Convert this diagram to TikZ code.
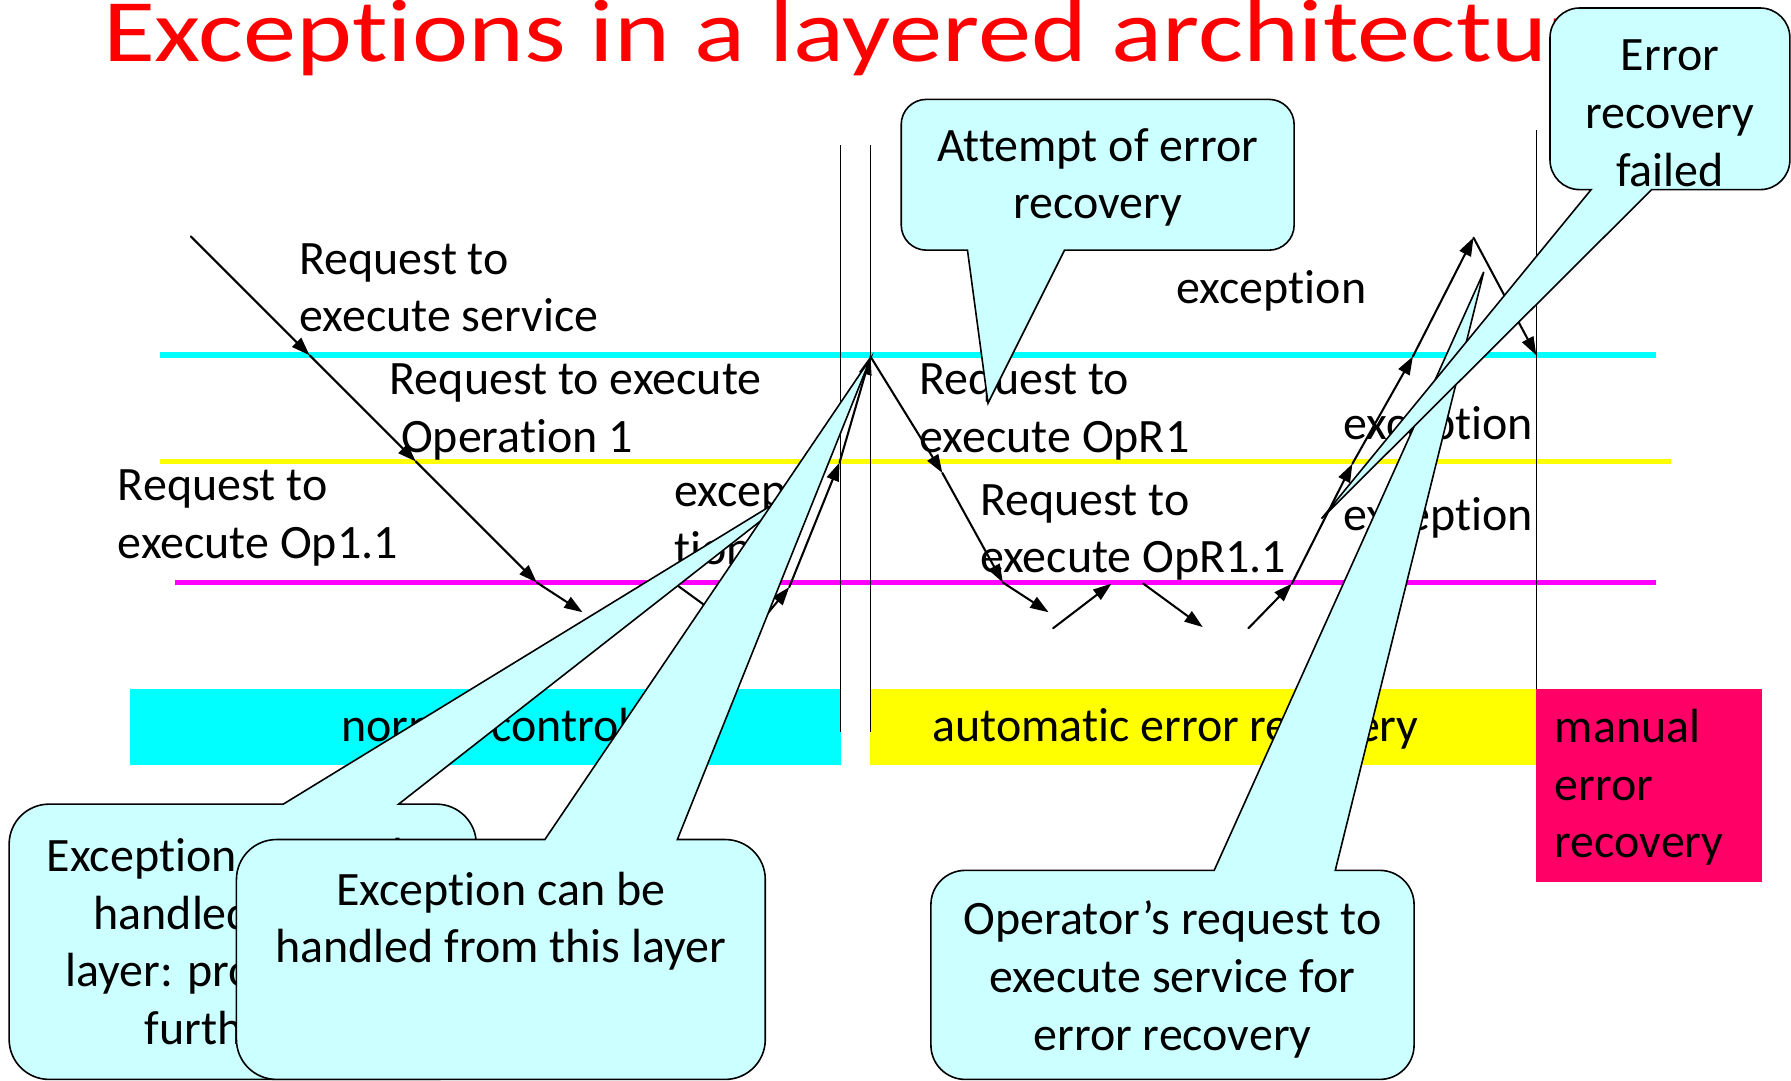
\documentclass[tikz,border=0pt]{standalone}
\usepackage{fontspec}
\usepackage{graphicx}
\setmainfont{Carlito}[Ligatures=NoCommon]
\usetikzlibrary{arrows.meta}

\definecolor{layerA}{HTML}{00FFFF}
\definecolor{layerB}{HTML}{FFFF00}
\definecolor{layerC}{HTML}{FF00FF}
\definecolor{bubble}{HTML}{CCFFFF}
\definecolor{manualred}{HTML}{FF0066}
\definecolor{titlered}{HTML}{FF0000}

\begin{document}
\begin{tikzpicture}[x=1pt, y=-1pt,
  lbl/.style={font=\fontsize{42}{50.5}\selectfont, inner sep=0pt, anchor=base west, align=left},
  clbl/.style={font=\fontsize{42}{50.5}\selectfont, inner sep=0pt, anchor=base, align=center},
  msg/.style={draw=black, line width=1.8pt, line cap=round, -{Triangle[length=16pt,width=11pt]}},
  layerline/.style={line width=5pt},
  lane/.style={draw=black, line width=1.1pt},
  bubbleshape/.style={fill=bubble, draw=black, line width=1.4pt, line join=miter},
]
\useasboundingbox (0,0) rectangle (1568,946);

% layer boundaries
\draw[layerline, layerA] (140,311) -- (1450,311);
\draw[layerline, layerB] (140,404) -- (1463,404);
\draw[layerline, layerC] (153,510) -- (1450,510);

% control regimes
\fill[layerA] (114,603) rectangle (736,670);
\fill[layerB] (762,603) rectangle (1345,670);
\fill[manualred] (1345,603) rectangle (1543,772);

% regime boundaries
\draw[lane] (736,127) -- (736,641);
\draw[lane] (762,127) -- (762,641);
\draw[lane] (1345,114) -- (1345,603);

% title
\node[anchor=base west, inner sep=0pt, text=titlered, font=\fontsize{78}{90}\selectfont]
  (title) at (90,54) {\scalebox{1.195}[1]{Exceptions in a layered architecture}};

% labels (the base anchor of a multi-line node sits on its last line)
\node[lbl] (reqsvc)   at (262,290.5) {Request to\\execute service};
\node[lbl] (reqop1)   at (341,396) {Request to execute\\\hspace*{10pt}Operation 1};
\node[lbl] (reqop11)  at (103,489) {Request to\\execute Op1.1};
\node[lbl] (excleft)  at (590,494) {excep\\tion};
\node[lbl] (reqopr1)  at (805,396) {Request to\\execute OpR1};
\node[lbl] (reqopr11) at (858,501.5) {Request to\\execute OpR1.1};
\node[lbl] (exctop)   at (1030,266) {exception};
\node[lbl] (excmid)   at (1176,385) {exception};
\node[lbl] (exclow)   at (1176,464) {exception};
\node[clbl] (normal)  at (425,649) {normal control};
\node[lbl] (auto)     at (816,649) {automatic error recovery};
\node[lbl] (manual)   at (1361,751) {manual\\error\\recovery};

% message path: normal control
\coordinate (a0) at (167,207);
\coordinate (a1) at (271,311);
\coordinate (a2) at (364,404);
\coordinate (a3) at (470,510);
\coordinate (a4) at (510,536);
\coordinate (b0) at (580,503);
\coordinate (b1) at (650,554);
\coordinate (c0) at (663,548);
\coordinate (c1) at (691,514);
\coordinate (c2) at (735,405);
\coordinate (c3) at (762,312);
% message path: automatic recovery
\coordinate (d1) at (825,414);
\coordinate (d2) at (878,510);
\coordinate (d3) at (918,536);
\coordinate (e0) at (922,550);
\coordinate (e1) at (973,511);
\coordinate (f0) at (1001,511);
\coordinate (f1) at (1053,549);
\coordinate (g0) at (1093,550);
\coordinate (g1) at (1131,511);
\coordinate (g2) at (1184,406);
\coordinate (g3) at (1237,312);
\coordinate (g4) at (1290,208);
\coordinate (g5) at (1345,311);

\draw[msg] (a0) -- (a1);
\draw[msg] (a1) -- (a2);
\draw[msg] (a2) -- (a3);
\draw[msg] (a3) -- (a4);
\draw[msg] (b0) -- (b1);
\draw[msg] (c0) -- (c1);
\draw[msg] (c1) -- (c2);
\draw[msg] (c2) -- (c3);
\draw[msg] (c3) -- (d1);
\draw[msg] (d1) -- (d2);
\draw[msg] (d2) -- (d3);
\draw[msg] (e0) -- (e1);
\draw[msg] (f0) -- (f1);
\draw[msg] (g0) -- (g1);
\draw[msg] (g1) -- (g2);
\draw[msg] (g2) -- (g3);
\draw[msg] (g3) -- (g4);
\draw[msg] (g4) -- (g5);

% callout: propagate further
\draw[bubbleshape] (43,704) -- (248,704) -- (712,420) -- (349,704) -- (382,704)
  arc[start angle=90, end angle=0, radius=35pt] -- (417,910)
  arc[start angle=0, end angle=-90, radius=35pt] -- (43,945)
  arc[start angle=-90, end angle=-180, radius=35pt] -- (8,739)
  arc[start angle=180, end angle=90, radius=35pt] -- cycle;
\node[clbl] (cannot) at (214,914.5) {Exception cannot be\\handled on this\\layer: propagate it\\further up};

% callout: handled here
\draw[bubbleshape] (242,735) -- (477,735) -- (762,314) -- (593,735) -- (635,735)
  arc[start angle=90, end angle=0, radius=35pt] -- (670,910)
  arc[start angle=0, end angle=-90, radius=35pt] -- (242,945)
  arc[start angle=-90, end angle=-180, radius=35pt] -- (207,770)
  arc[start angle=180, end angle=90, radius=35pt] -- cycle;
\node[clbl] (canbe) at (438.5,843) {Exception can be\\handled from this layer};

% callout: operator request
\draw[bubbleshape] (845,762) -- (1063,762) -- (1299,238) -- (1169,762) -- (1208,762)
  arc[start angle=90, end angle=0, radius=30pt] -- (1238,915)
  arc[start angle=0, end angle=-90, radius=30pt] -- (845,945)
  arc[start angle=-90, end angle=-180, radius=30pt] -- (815,792)
  arc[start angle=180, end angle=90, radius=30pt] -- cycle;
\node[clbl] (operator) at (1026.5,919.5) {Operator’s request to\\execute service for\\error recovery};

% callout: recovery attempt
\draw[bubbleshape] (811,87) -- (1111,87)
  arc[start angle=90, end angle=0, radius=22pt] -- (1133,197)
  arc[start angle=0, end angle=-90, radius=22pt] -- (932,219) -- (865,353) -- (847,219) -- (811,219)
  arc[start angle=-90, end angle=-180, radius=22pt] -- (789,109)
  arc[start angle=180, end angle=90, radius=22pt] -- cycle;
\node[clbl] (attempt) at (961,191.5) {Attempt of error\\recovery};

% callout: recovery failed
\draw[bubbleshape] (1383,7) -- (1541,7)
  arc[start angle=90, end angle=0, radius=26pt] -- (1567,140)
  arc[start angle=0, end angle=-90, radius=26pt] -- (1446,166) -- (1157,454) -- (1393,166) -- (1383,166)
  arc[start angle=-90, end angle=-180, radius=26pt] -- (1357,33)
  arc[start angle=180, end angle=90, radius=26pt] -- cycle;
\node[clbl] (failed) at (1462,163) {Error\\recovery\\failed};
\end{tikzpicture}
\end{document}
